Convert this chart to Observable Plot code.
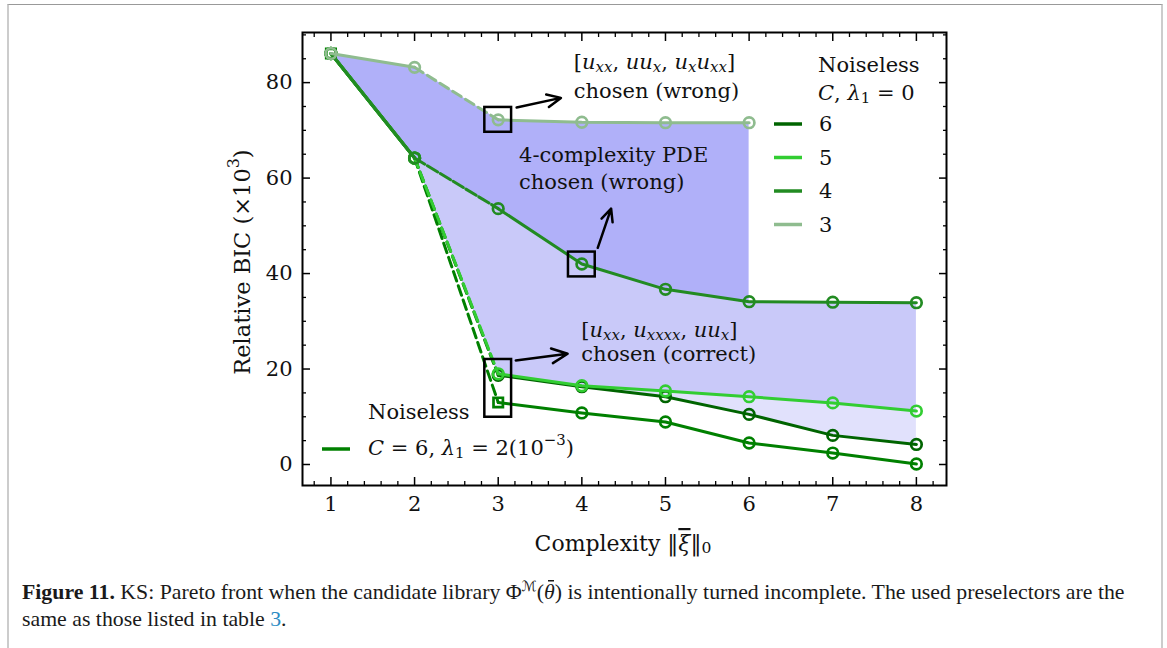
<!DOCTYPE html>
<html><head><meta charset="utf-8">
<script src="https://cdn.jsdelivr.net/npm/d3@7"></script>
<script src="https://cdn.jsdelivr.net/npm/@observablehq/plot@0.6"></script>
<style>
body{margin:0;background:#fff;width:1167px;height:648px;overflow:hidden;position:relative;}
#frame{position:absolute;left:7px;top:4px;width:1152px;height:680px;border-top:1px solid #999;border-left:2px solid #ccc;border-right:2px solid #ccc;}
#chart{position:absolute;left:0;top:0;}
#caption{position:absolute;left:22px;top:573px;font-family:"Liberation Serif",serif;font-size:21.8px;line-height:27px;color:#1a1a1a;white-space:nowrap;}
#caption sup{font-size:14px;font-family:"DejaVu Sans",sans-serif;}
#caption .th{font-style:italic;display:inline-block;border-top:0;background:linear-gradient(#1a1a1a,#1a1a1a) no-repeat 4px 1px/6px 1.5px;}
</style></head><body>
<div id="frame"></div>
<div id="chart"></div>
<div id="caption"><b>Figure 11.</b> KS: Pareto front when the candidate library Φ<sup>ℳ</sup>(<span class="th">θ</span>) is intentionally turned incomplete. The used preselectors are the<br>same as those listed in table <span style="color:#2b8cc4">3</span>.</div>
<script>
// ---------- data ----------
const complexity = [1, 2, 3, 4, 5, 6, 7, 8];
const bicC6 = [86.1, 64.2, 18.7, 16.3, 14.2, 10.5, 6.1, 4.2];
const bicC5 = [86.1, 64.2, 19.0, 16.5, 15.4, 14.2, 12.9, 11.2];
const bicC4 = [86.1, 64.2, 53.6, 42.0, 36.7, 34.1, 34.0, 33.9];
const bicC3 = [86.1, 83.2, 72.2, 71.7, 71.6, 71.6];
const bicNoisy = [86.1, 64.2, 13.0, 10.8, 8.9, 4.5, 2.4, 0.1];
const seriesNames = ["noisy", "6", "5", "4", "3"];
const seriesColors = ["#008000", "#006400", "#32cd32", "#228b22", "#8fbc8f"];
const seriesDash = ["10,5", "10,5", "10,5", "12,3", "10,5"];
const seriesValues = [bicNoisy, bicC6, bicC5, bicC4, bicC3];
const xTicks = [1, 2, 3, 4, 5, 6, 7, 8];
const yTicks = [0, 20, 40, 60, 80];
const fillColors = ["#b0b0f9", "#c9c9f9", "#e1e1fc"];

// annotation boxes (data units)
const boxes = [
  {x1: 2.84, x2: 3.16, y1: 69.6, y2: 74.8},
  {x1: 3.84, x2: 4.16, y1: 39.3, y2: 44.5},
  {x1: 2.84, x2: 3.16, y1: 9.9, y2: 22.0}
];
const arrows = [
  {x1: 3.22, y1: 74.8, x2: 3.75, y2: 76.8},
  {x1: 4.19, y1: 45.4, x2: 4.35, y2: 53.6},
  {x1: 3.21, y1: 21.8, x2: 3.83, y2: 23.2}
];
// rich-text annotations: [x, y, parts]; part = [text, kind]
const annotations = [
  [3.91, 84.2, [["[", ""], ["u", "i"], ["xx", "sub"], [", ", ""], ["uu", "i"], ["x", "sub"], [", ", ""], ["u", "i"], ["x", "sub"], ["u", "i"], ["xx", "sub"], ["]", ""]]],
  [3.91, 78.1, [["chosen (wrong)", ""]]],
  [3.255, 64.7, [["4-complexity PDE", ""]]],
  [3.255, 59.1, [["chosen (wrong)", ""]]],
  [4.0, 28.1, [["[", ""], ["u", "i"], ["xx", "sub"], [", ", ""], ["u", "i"], ["xxxx", "sub"], [", ", ""], ["uu", "i"], ["x", "sub"], ["]", ""]]],
  [4.0, 23.05, [["chosen (correct)", ""]]]
];

// ---------- build tables ----------
const lineRows = [];
const dotRows = [];
seriesValues.forEach((vals, si) => {
  vals.forEach((v, i) => {
    const x = complexity[i];
    if (x <= 2) lineRows.push({key: seriesNames[si] + "a", s: si, x, y: v, dash: false});
    if (x >= 2 && x <= 3) lineRows.push({key: seriesNames[si] + "b", s: si, x, y: v, dash: true});
    if (x >= 3) lineRows.push({key: seriesNames[si] + "c", s: si, x, y: v, dash: false});
    const square = si === 0 && (x === 1 || x === 3);
    dotRows.push({s: si, x, y: v, square});
  });
});
const regionA = complexity.slice(0, 6).map((x, i) => ({x, lo: bicC4[i], hi: bicC3[i]}));
const regionB = complexity.slice(1).map((x, j) => ({x, lo: bicC5[j + 1], hi: bicC4[j + 1]}));
const regionC = complexity.slice(2).map((x, j) => ({x, lo: bicC6[j + 2], hi: bicC5[j + 2]}));

const minorX = d3.range(0.8, 8.3, 0.2).map(v => +v.toFixed(1)).filter(v => Math.abs(v - Math.round(v)) > 1e-6);
const minorY = d3.range(0, 91, 5).filter(v => v % 20 !== 0);

const blank = () => "";
const marks = [];
marks.push(Plot.areaY(regionA, {x: "x", y1: "lo", y2: "hi", fill: fillColors[0]}));
marks.push(Plot.areaY(regionB, {x: "x", y1: "lo", y2: "hi", fill: fillColors[1]}));
marks.push(Plot.areaY(regionC, {x: "x", y1: "lo", y2: "hi", fill: fillColors[2]}));
seriesNames.forEach((n, si) => {
  const rows = lineRows.filter(d => d.s === si);
  marks.push(Plot.line(rows.filter(d => !d.dash), {x: "x", y: "y", z: "key", stroke: seriesColors[si], strokeWidth: 3}));
  marks.push(Plot.line(rows.filter(d => d.dash), {x: "x", y: "y", z: "key", stroke: seriesColors[si], strokeWidth: 3, strokeDasharray: seriesDash[si]}));
  const dots = dotRows.filter(d => d.s === si);
  marks.push(Plot.dot(dots.filter(d => !d.square), {x: "x", y: "y", r: 5.3, stroke: seriesColors[si], strokeWidth: 2.7, fill: "none"}));
  marks.push(Plot.dot(dots.filter(d => d.square), {x: "x", y: "y", r: 5.3, symbol: "square", stroke: seriesColors[si], strokeWidth: 2.7, fill: "none"}));
});
marks.push(Plot.rect(boxes, {x1: "x1", x2: "x2", y1: "y1", y2: "y2", fill: "none", stroke: "black", strokeWidth: 2.5}));
marks.push(Plot.arrow(arrows, {x1: "x1", y1: "y1", x2: "x2", y2: "y2", stroke: "black", strokeWidth: 2.5, headLength: 12, headAngle: 50}));
for (const anchor of ["bottom", "top"]) {
  marks.push(Plot.axisX(xTicks, {anchor, tickSize: -8, tickFormat: blank, strokeWidth: 1.5, label: null}));
  marks.push(Plot.axisX(minorX, {anchor, tickSize: -4, tickFormat: blank, strokeWidth: 1.3, label: null}));
}
for (const anchor of ["left", "right"]) {
  marks.push(Plot.axisY(yTicks, {anchor, tickSize: -8, tickFormat: blank, strokeWidth: 1.5, label: null}));
  marks.push(Plot.axisY(minorY, {anchor, tickSize: -4, tickFormat: blank, strokeWidth: 1.3, label: null}));
}
marks.push(Plot.axisX(xTicks, {anchor: "bottom", tickSize: 0, tickPadding: 11, label: null, fontSize: 21, fill: "#111"}));
marks.push(Plot.axisY(yTicks, {anchor: "left", tickSize: 0, tickPadding: 10, label: null, fontSize: 21, fill: "#111"}));
marks.push(Plot.frame({stroke: "black", strokeWidth: 2}));

const W = 1167, H = 560;
const plot = Plot.plot({
  width: W, height: H,
  marginLeft: 302, marginRight: 221, marginTop: 32, marginBottom: 75,
  x: {domain: [0.66, 8.36]},
  y: {domain: [-4.4, 90.5]},
  style: {fontFamily: "DejaVu Serif", fontSize: "21px", background: "transparent", overflow: "visible"},
  marks
});
document.getElementById("chart").appendChild(plot);

// ---------- rich text ----------
const svg = d3.select(plot);
const g = svg.append("g");
const sx = plot.scale("x"), sy = plot.scale("y");
function rich(x, y, parts, opts = {}) {
  const size = opts.size || 21;
  const t = g.append("text").attr("x", x).attr("y", y)
    .attr("font-family", "DejaVu Serif").attr("font-size", size)
    .attr("fill", "#111").attr("dominant-baseline", "central")
    .attr("text-anchor", opts.anchor || "start");
  if (opts.transform) t.attr("transform", opts.transform);
  let shift = 0;
  for (const [s, k] of parts) {
    const sp = t.append("tspan").text(s);
    const isSub = k === "sub" || k === "subr";
    const isSup = k === "sup" || k === "supr";
    const target = isSub ? size * 0.24 : isSup ? -size * 0.38 : 0;
    if (target !== shift) sp.attr("dy", target - shift);
    shift = target;
    if (k === "i" || k === "sub" || k === "sup" || k === "ibar") sp.attr("font-style", "italic");
    if (k === "ibar") sp.attr("text-decoration", "overline");
    if (isSub || isSup) sp.attr("font-size", size * 0.71);
  }
  return t;
}
for (const [x, y, parts] of annotations) rich(sx.apply(x), sy.apply(y), parts);

// legend (upper right)
const legendRows = [["6", 1], ["5", 2], ["4", 3], ["3", 4]];
rich(818, 65, [["Noiseless", ""]]);
rich(818, 93, [["C", "i"], [", ", ""], ["λ", "i"], ["1", "subr"], [" = 0", ""]]);
legendRows.forEach(([lab, si], i) => {
  const y = 124 + i * 33.5;
  g.append("line").attr("x1", 774).attr("x2", 802).attr("y1", y).attr("y2", y)
    .attr("stroke", seriesColors[si]).attr("stroke-width", 3.5);
  rich(819, y, [[lab, ""]]);
});
// legend (lower left)
rich(368, 412, [["Noiseless", ""]]);
g.append("line").attr("x1", 322).attr("x2", 350).attr("y1", 449).attr("y2", 449)
  .attr("stroke", seriesColors[0]).attr("stroke-width", 3.5);
rich(368, 448, [["C", "i"], [" = 6, ", ""], ["λ", "i"], ["1", "subr"], [" = 2(10", ""], ["−3", "supr"], [")", ""]]);

// axis labels
rich(623, 543, [["Complexity ‖", ""], ["ξ", "ibar"], ["‖", ""], ["0", "subr"]], {anchor: "middle", size: 22});
rich(0, 0, [["Relative BIC (×10", ""], ["3", "supr"], [")", ""]], {anchor: "middle", size: 22.5, transform: "translate(242,262) rotate(-90)"});
</script>
</body></html>
